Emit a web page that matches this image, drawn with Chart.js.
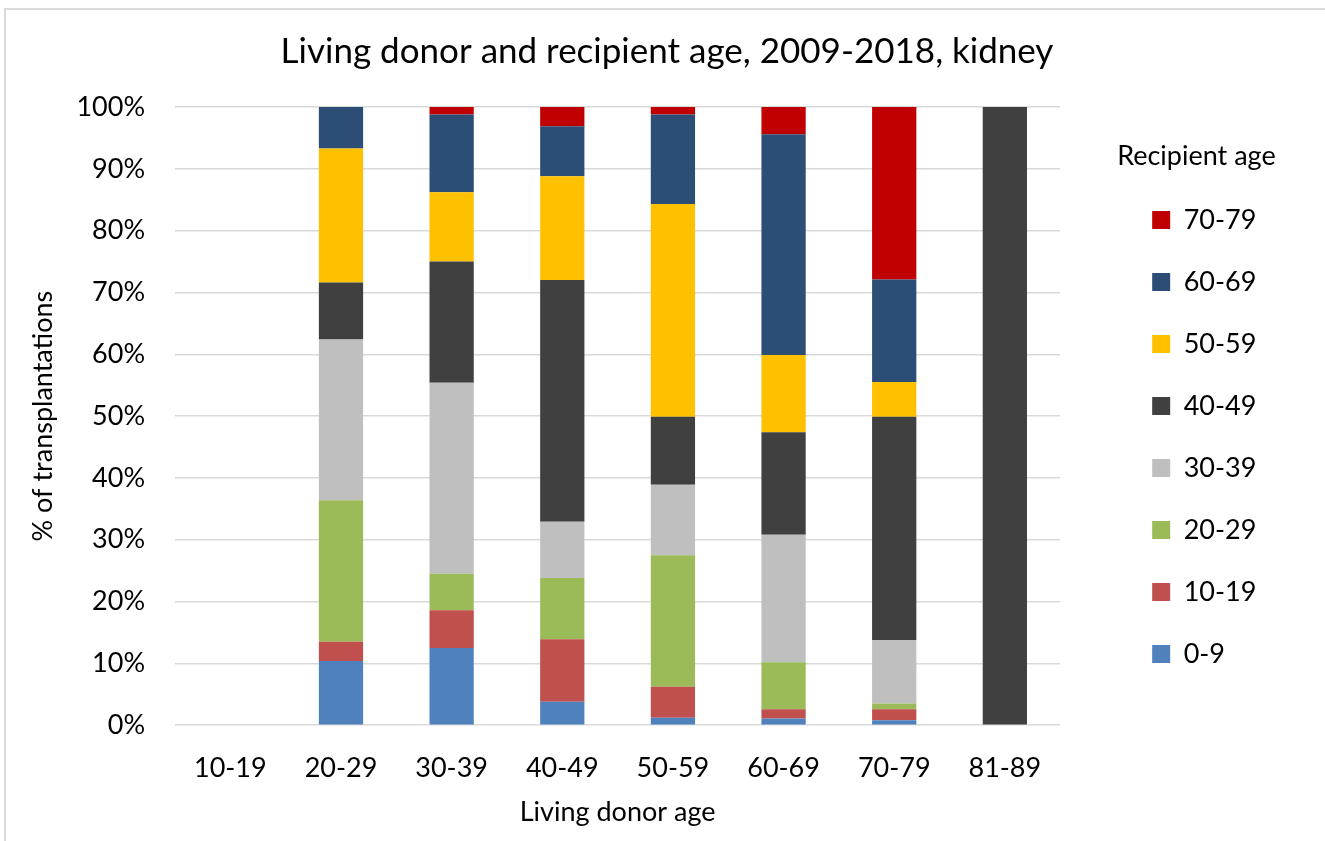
<!DOCTYPE html>
<html>
<head>
<meta charset="utf-8">
<script src="https://cdn.jsdelivr.net/npm/chart.js@4"></script>
<style>
  body { margin: 0; background: #fff; overflow: hidden; }
  #wrap { position: relative; width: 1325px; height: 841px; }
  #frame { position: absolute; left: 4px; top: 8px; width: 1400px; height: 900px;
           border-left: 2px solid #d9d9d9; border-top: 2px solid #d9d9d9; pointer-events: none; }
</style>
</head>
<body>
<div id="wrap">
  <canvas id="barChart" width="1325" height="841"></canvas>
  <div id="frame"></div>
</div>
<script>
// donor age groups (x axis)
var donorAges = ['10-19', '20-29', '30-39', '40-49', '50-59', '60-69', '70-79', '81-89'];
// share of transplantations per recipient age group, %
var recip0_9   = [0, 10.4, 12.5,  3.8,  1.2,  1.1,  0.8,   0];
var recip10_19 = [0,  3.1,  6.1, 10.1,  5.0,  1.5,  1.8,   0];
var recip20_29 = [0, 22.9,  5.9,  9.9, 21.3,  7.6,  0.9,   0];
var recip30_39 = [0, 26.0, 30.9,  9.1, 11.4, 20.6, 10.3,   0];
var recip40_49 = [0,  9.2, 19.6, 39.1, 11.0, 16.6, 36.1, 100];
var recip50_59 = [0, 21.7, 11.2, 16.8, 34.4, 12.5,  5.6,   0];
var recip60_69 = [0,  6.7, 12.6,  8.1, 14.5, 35.7, 16.6,   0];
var recip70_79 = [0,  0,    1.2,  3.1,  1.2,  4.4, 27.9,   0];
var yTicks = [0, 10, 20, 30, 40, 50, 60, 70, 80, 90, 100];

var FONT = 'Lato';

function series(label, data, color) {
    return { label: label, data: data, backgroundColor: color, borderWidth: 0,
             barPercentage: 0.4, categoryPercentage: 1.0 };
}

var ctx = document.getElementById('barChart').getContext('2d');
new Chart(ctx, {
    type: 'bar',
    data: {
        labels: donorAges,
        datasets: [
            series('0-9', recip0_9, '#4F81BD'),
            series('10-19', recip10_19, '#C0504D'),
            series('20-29', recip20_29, '#9BBB59'),
            series('30-39', recip30_39, '#BFBFBF'),
            series('40-49', recip40_49, '#404040'),
            series('50-59', recip50_59, '#FFC000'),
            series('60-69', recip60_69, '#2C4D75'),
            series('70-79', recip70_79, '#C00000')
        ]
    },
    options: {
        responsive: false,
        animation: false,
        layout: { padding: { left: 40, right: 31, top: 0, bottom: 13 } },
        plugins: {
            title: {
                display: true,
                text: 'Living donor and recipient age, 2009-2018, kidney',
                color: '#000',
                font: { family: FONT, size: 35, weight: 'normal' },
                padding: { top: 31, bottom: 34 }
            },
            legend: {
                position: 'right',
                reverse: true,
                align: 'start',
                title: {
                    display: true,
                    text: 'Recipient age',
                    position: 'start',
                    color: '#000',
                    font: { family: FONT, size: 27 },
                    padding: { top: 143, bottom: -4 }
                },
                labels: {
                    color: '#000',
                    font: { family: FONT, size: 27 },
                    boxWidth: 18,
                    boxHeight: 18,
                    padding: 35,
                    // trailing no-break spaces widen the legend box so its title is not clipped
                    generateLabels: function (chart) {
                        var items = Chart.defaults.plugins.legend.labels.generateLabels(chart);
                        items.forEach(function (it) { it.text = it.text + '\u00a0\u00a0\u00a0\u00a0'; });
                        return items;
                    }
                }
            },
            tooltip: { enabled: false }
        },
        scales: {
            x: {
                stacked: true,
                grid: { display: false, drawTicks: true, tickLength: 27 },
                border: { display: false },
                ticks: { color: '#000', font: { family: FONT, size: 27 }, padding: 0 },
                title: {
                    display: true,
                    text: 'Living donor age',
                    color: '#000',
                    font: { family: FONT, size: 27 },
                    padding: { top: 11, bottom: 0 }
                }
            },
            y: {
                stacked: true,
                min: 0,
                max: 100,
                afterBuildTicks: function (axis) {
                    axis.ticks = yTicks.map(function (v) { return { value: v }; });
                },
                grid: { color: '#d9d9d9', lineWidth: 1.5, drawTicks: true, tickLength: 30,
                        tickColor: 'rgba(0,0,0,0)' },
                border: { display: false },
                ticks: {
                    color: '#000',
                    font: { family: FONT, size: 27 },
                    padding: 0,
                    callback: function (v) { return v + '%'; }
                },
                title: {
                    display: true,
                    text: '% of transplantations',
                    color: '#000',
                    font: { family: FONT, size: 27 },
                    padding: { top: -13, bottom: 17 }
                }
            },
            // empty axis: only keeps a gap between the plot and the legend
            gap: {
                axis: 'y',
                position: 'right',
                grid: { display: false },
                border: { display: false },
                ticks: { display: false },
                afterFit: function (axis) { axis.width = 57; }
            }
        }
    }
});
</script>
</body>
</html>
